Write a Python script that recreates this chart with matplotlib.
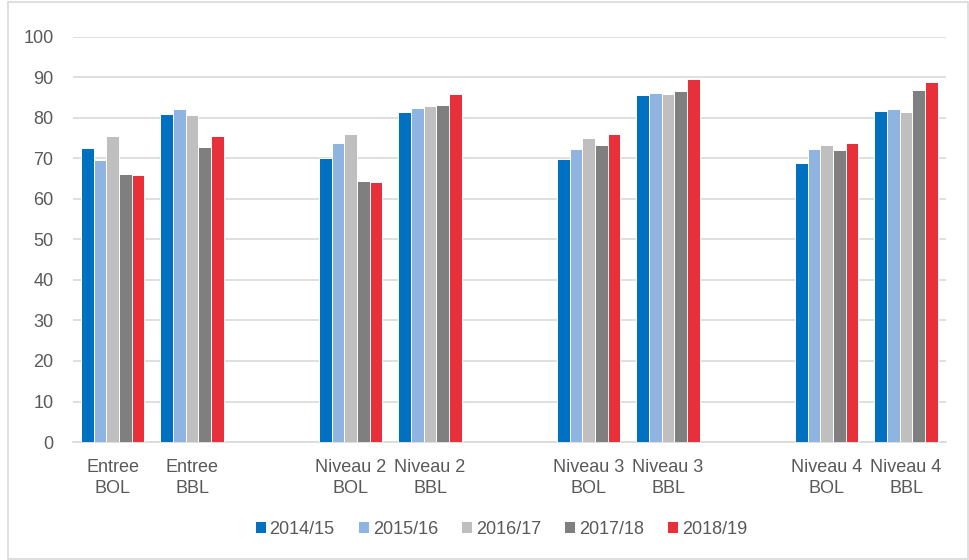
import numpy as np
import matplotlib
matplotlib.use("Agg")
import matplotlib.pyplot as plt
from matplotlib.patches import Rectangle

plt.rcParams['font.family'] = ['Liberation Sans', 'DejaVu Sans']

# categories (empty slots between levels are kept as gaps)
categories = ["Entree\nBOL", "Entree\nBBL", "Niveau 2\nBOL", "Niveau 2\nBBL",
              "Niveau 3\nBOL", "Niveau 3\nBBL", "Niveau 4\nBOL", "Niveau 4\nBBL"]
slots = [0, 1, 3, 4, 6, 7, 9, 10]
years = ["2014/15", "2015/16", "2016/17", "2017/18", "2018/19"]

v_2014 = [72.6, 80.9, 70.2, 81.5, 69.9, 85.6, 69.0, 81.7]
v_2015 = [69.5, 82.3, 73.8, 82.4, 72.3, 86.2, 72.4, 82.3]
v_2016 = [75.5, 80.8, 76.0, 83.0, 75.1, 86.0, 73.4, 81.4]
v_2017 = [66.1, 72.8, 64.5, 83.2, 73.3, 86.7, 72.1, 86.9]
v_2018 = [65.9, 75.6, 64.3, 85.8, 76.0, 89.5, 73.7, 89.0]
series = [v_2014, v_2015, v_2016, v_2017, v_2018]

colors = ["#0070C0", "#8FB4E2", "#BFBFBF", "#7F7F7F", "#E8303A"]

fig = plt.figure(figsize=(9.7, 5.6), dpi=100)
ax = fig.add_axes([0.0753, 0.2107, 0.8997, 0.7233])

# light frame round the whole chart
fig.patches.append(Rectangle((0.008, 0.002), 0.99, 0.995, transform=fig.transFigure,
                             fill=False, edgecolor="#D9D9D9", linewidth=1.2))

x = np.array(slots, dtype=float)
w = 0.16
for i, (vals, col, lab) in enumerate(zip(series, colors, years)):
    ax.bar(x + (i - 2) * w, vals, width=w, color=col, edgecolor="white",
           linewidth=0.7, label=lab, zorder=3)

ax.set_ylim(0, 100)
ax.set_xlim(-0.5, 10.5)
ax.set_yticks(range(0, 101, 10))
ax.set_xticks(slots)
ax.set_xticklabels(categories, fontsize=13, color="#595959", linespacing=1.3)
ax.tick_params(axis='y', labelsize=13, labelcolor="#595959", length=0, pad=14)
ax.tick_params(axis='x', length=0, pad=12)
ax.yaxis.grid(True, color="#D9D9D9", linewidth=1.2, zorder=0)
ax.set_axisbelow(True)
for s in ["top", "right", "left"]:
    ax.spines[s].set_visible(False)
ax.spines["bottom"].set_color("#D9D9D9")
ax.spines["bottom"].set_linewidth(1.2)

ax.legend(loc="center", bbox_to_anchor=(0.4905, -0.215), ncol=5, frameon=False,
          fontsize=13, labelcolor="#595959", handlelength=0.6, handleheight=0.6,
          handletextpad=0.2, columnspacing=1.3)

fig.savefig("out.png", dpi=100)
